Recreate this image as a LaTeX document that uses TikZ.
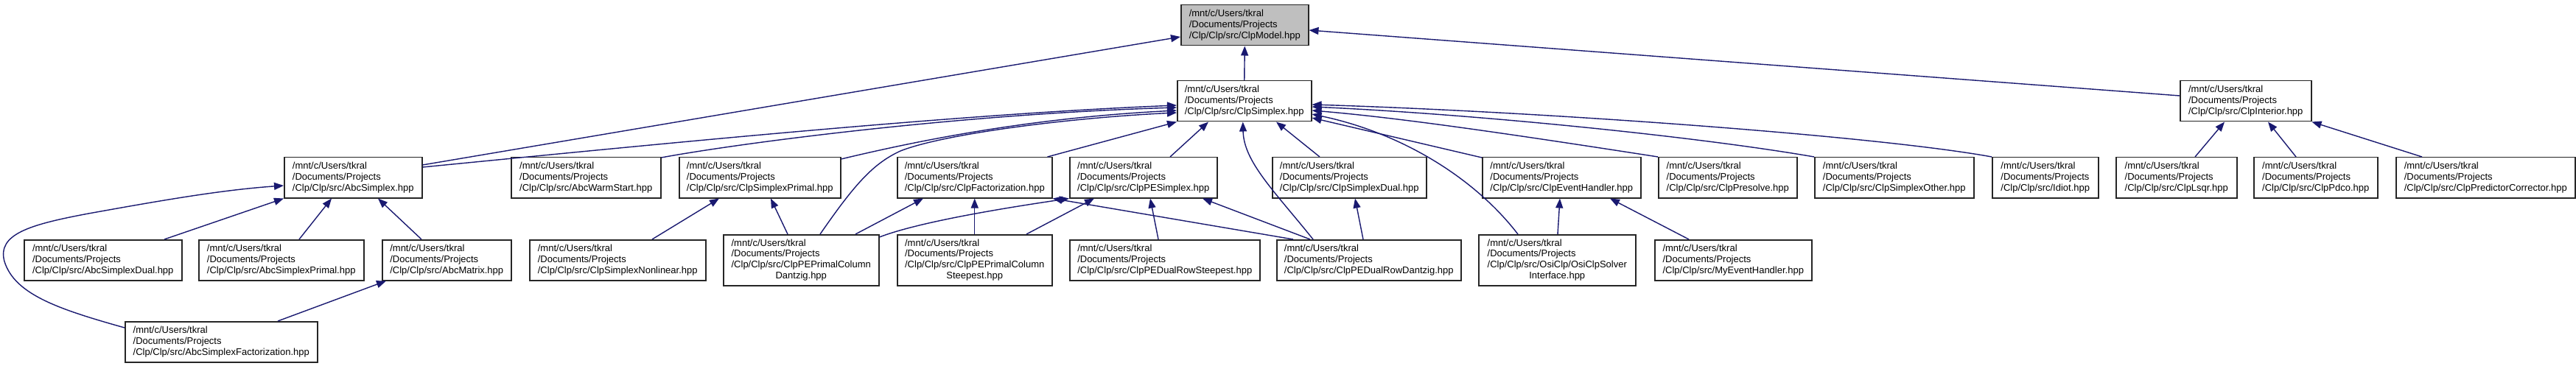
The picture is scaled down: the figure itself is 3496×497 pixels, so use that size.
\documentclass[tikz,border=0pt]{standalone}
\usepackage{fontspec}
\setmainfont{Liberation Sans}
\usetikzlibrary{arrows.meta,calc}
\definecolor{edgeblue}{HTML}{191970}
\definecolor{nodegray}{HTML}{BFBFBF}
\newcommand\flbl[1]{\begin{tabular}{@{}l@{}}#1\end{tabular}}
\newcommand\lastc[1]{\multicolumn{1}{@{}c@{}}{#1}}
\begin{document}
\begin{tikzpicture}[x=1pt,y=-1pt,
 filebox/.style={draw=black!85, line width=1.5pt, fill=white, rectangle, anchor=north west, inner sep=0pt, minimum height=55pt, font=\fontsize{13}{14.8}\selectfont},
 tallbox/.style={filebox, minimum height=69pt},
 dep/.style={draw=edgeblue, line width=1.4pt, -{Triangle[length=13pt,width=10pt]}}]
\fill[white] (0,0) rectangle (3496,497);
\useasboundingbox (0,0) rectangle (3496,497);
% row 0
\node[filebox, fill=nodegray, minimum width=173pt] (model) at (1602,6) {\flbl{/mnt/c/Users/tkral\\/Documents/Projects\\/Clp/Clp/src/ClpModel.hpp}};
% row 1
\node[filebox, minimum width=182pt] (cs) at (1597,109) {\flbl{/mnt/c/Users/tkral\\/Documents/Projects\\/Clp/Clp/src/ClpSimplex.hpp}};
\node[filebox, minimum width=178pt] (ci) at (2958,109) {\flbl{/mnt/c/Users/tkral\\/Documents/Projects\\/Clp/Clp/src/ClpInterior.hpp}};
% row 2
\node[filebox, minimum width=187pt] (as) at (385,213) {\flbl{/mnt/c/Users/tkral\\/Documents/Projects\\/Clp/Clp/src/AbcSimplex.hpp}};
\node[filebox, minimum width=203pt] (aws) at (693,213) {\flbl{/mnt/c/Users/tkral\\/Documents/Projects\\/Clp/Clp/src/AbcWarmStart.hpp}};
\node[filebox, minimum width=219pt] (csp) at (921,213) {\flbl{/mnt/c/Users/tkral\\/Documents/Projects\\/Clp/Clp/src/ClpSimplexPrimal.hpp}};
\node[filebox, minimum width=210pt] (cf) at (1217,213) {\flbl{/mnt/c/Users/tkral\\/Documents/Projects\\/Clp/Clp/src/ClpFactorization.hpp}};
\node[filebox, minimum width=200pt] (cpes) at (1451,213) {\flbl{/mnt/c/Users/tkral\\/Documents/Projects\\/Clp/Clp/src/ClpPESimplex.hpp}};
\node[filebox, minimum width=209pt] (csd) at (1726,213) {\flbl{/mnt/c/Users/tkral\\/Documents/Projects\\/Clp/Clp/src/ClpSimplexDual.hpp}};
\node[filebox, minimum width=215pt] (ceh) at (2011,213) {\flbl{/mnt/c/Users/tkral\\/Documents/Projects\\/Clp/Clp/src/ClpEventHandler.hpp}};
\node[filebox, minimum width=188pt] (cpre) at (2250,213) {\flbl{/mnt/c/Users/tkral\\/Documents/Projects\\/Clp/Clp/src/ClpPresolve.hpp}};
\node[filebox, minimum width=216pt] (cso) at (2462,213) {\flbl{/mnt/c/Users/tkral\\/Documents/Projects\\/Clp/Clp/src/ClpSimplexOther.hpp}};
\node[filebox, minimum width=144pt] (idiot) at (2703,213) {\flbl{/mnt/c/Users/tkral\\/Documents/Projects\\/Clp/Clp/src/Idiot.hpp}};
\node[filebox, minimum width=164pt] (lsqr) at (2871,213) {\flbl{/mnt/c/Users/tkral\\/Documents/Projects\\/Clp/Clp/src/ClpLsqr.hpp}};
\node[filebox, minimum width=168pt] (pdco) at (3058,213) {\flbl{/mnt/c/Users/tkral\\/Documents/Projects\\/Clp/Clp/src/ClpPdco.hpp}};
\node[filebox, minimum width=243pt] (pc) at (3251,213) {\flbl{/mnt/c/Users/tkral\\/Documents/Projects\\/Clp/Clp/src/ClpPredictorCorrector.hpp}};
% row 3
\node[filebox, minimum width=214pt] (asd) at (32,325) {\flbl{/mnt/c/Users/tkral\\/Documents/Projects\\/Clp/Clp/src/AbcSimplexDual.hpp}};
\node[filebox, minimum width=224pt] (asp) at (269,325) {\flbl{/mnt/c/Users/tkral\\/Documents/Projects\\/Clp/Clp/src/AbcSimplexPrimal.hpp}};
\node[filebox, minimum width=175pt] (am) at (518,325) {\flbl{/mnt/c/Users/tkral\\/Documents/Projects\\/Clp/Clp/src/AbcMatrix.hpp}};
\node[filebox, minimum width=239pt] (csn) at (718,325) {\flbl{/mnt/c/Users/tkral\\/Documents/Projects\\/Clp/Clp/src/ClpSimplexNonlinear.hpp}};
\node[tallbox, minimum width=211pt] (pepcd) at (981,318) {\flbl{/mnt/c/Users/tkral\\/Documents/Projects\\/Clp/Clp/src/ClpPEPrimalColumn\\\lastc{Dantzig.hpp}}};
\node[tallbox, minimum width=210pt] (pepcs) at (1217,318) {\flbl{/mnt/c/Users/tkral\\/Documents/Projects\\/Clp/Clp/src/ClpPEPrimalColumn\\\lastc{Steepest.hpp}}};
\node[filebox, minimum width=258pt] (pedrs) at (1451,325) {\flbl{/mnt/c/Users/tkral\\/Documents/Projects\\/Clp/Clp/src/ClpPEDualRowSteepest.hpp}};
\node[filebox, minimum width=250pt] (pedrd) at (1732,325) {\flbl{/mnt/c/Users/tkral\\/Documents/Projects\\/Clp/Clp/src/ClpPEDualRowDantzig.hpp}};
\node[tallbox, minimum width=213pt] (osi) at (2006,318) {\flbl{/mnt/c/Users/tkral\\/Documents/Projects\\/Clp/Clp/src/OsiClp/OsiClpSolver\\\lastc{Interface.hpp}}};
\node[filebox, minimum width=213pt] (myeh) at (2245,325) {\flbl{/mnt/c/Users/tkral\\/Documents/Projects\\/Clp/Clp/src/MyEventHandler.hpp}};
% row 4
\node[filebox, minimum width=261pt] (asf) at (169,436) {\flbl{/mnt/c/Users/tkral\\/Documents/Projects\\/Clp/Clp/src/AbcSimplexFactorization.hpp}};

% edges to ClpModel
\draw[dep] (cs.north) -- (model.south);
\draw[dep] ($(as.north east)+(0,11)$) -- ($(model.north west)+(0,44)$);
\draw[dep] ($(ci.north west)+(0,21)$) -- ($(model.north east)+(0,35)$);
% edges to ClpSimplex (left side)
\draw[dep] ($(as.north east)+(0,14)$) .. controls (900,195) and (1300,155) .. ($(cs.north west)+(0,34)$);
\draw[dep] ($(aws.north east)+(0,1)$) .. controls (1000,195) and (1300,155) .. ($(cs.north west)+(0,37)$);
\draw[dep] ($(csp.north east)+(0,3)$) .. controls (1250,190) and (1400,160) .. ($(cs.north west)+(0,41)$);
\draw[dep] ($(pepcd.north west)+(132,0)$) .. controls (1160,250) and (1185,222) .. (1222,205) .. controls (1280,182) and (1450,160) .. ($(cs.north west)+(0,44)$);
\draw[dep] ($(cf.north east)+(-7,0)$) -- (cs.south west);
% edges to ClpSimplex (bottom)
\draw[dep] ($(cpes.north west)+(137,0)$) -- ($(cs.south west)+(43,0)$);
\draw[dep] ($(csd.north west)+(65,0)$) -- ($(cs.south west)+(135,0)$);
\draw[dep] ($(pedrd.north west)+(50,0)$) .. controls (1730,260) and (1688,220) .. ($(cs.south)+(-2,0)$);
% edges to ClpSimplex (right side)
\draw[dep] ($(ceh.north west)+(0,1)$) -- ($(cs.north east)+(0,51)$);
\draw[dep] ($(osi.north west)+(54,0)$) .. controls (2000,240) and (1900,180) .. ($(cs.north east)+(0,46)$);
\draw[dep] (cpre.north west) .. controls (2050,182) and (1900,160) .. ($(cs.north east)+(0,41)$);
\draw[dep] (cso.north west) .. controls (2300,185) and (2000,155) .. ($(cs.north east)+(0,36)$);
\draw[dep] (idiot.north west) .. controls (2550,185) and (2100,152) .. ($(cs.north east)+(0,33)$);
% row 3 -> row 2
\draw[dep] ($(csn.north west)+(167,0)$) -- ($(csp.south west)+(55,0)$);
\draw[dep] ($(pepcd.north west)+(88,0)$) -- ($(csp.south west)+(125,0)$);
\draw[dep] ($(pepcd.north west)+(180,0)$) -- ($(cf.south west)+(36,0)$);
\draw[dep] ($(pepcd.north east)+(0,4)$) .. controls (1250,300) and (1380,280) .. (cpes.south west);
\draw[dep] (pepcs.north) -- (cf.south);
\draw[dep] ($(pepcs.north west)+(176,0)$) -- ($(cpes.south west)+(34,0)$);
\draw[dep] ($(pedrs.north west)+(121,0)$) -- ($(cpes.south west)+(110,0)$);
\draw[dep] ($(pedrd.north west)+(46,0)$) -- ($(cpes.south west)+(181,0)$);
\draw[dep] ($(pedrd.north west)+(23,0)$) -- (cf.south east);
\draw[dep] ($(pedrd.north west)+(118,0)$) -- ($(csd.south west)+(113,0)$);
\draw[dep] ($(osi.north west)+(108,0)$) -- ($(ceh.south west)+(106,0)$);
\draw[dep] ($(myeh.north west)+(47,0)$) -- ($(ceh.south west)+(174,0)$);
\draw[dep] ($(asd.north west)+(191,0)$) -- (as.south west);
\draw[dep] ($(asp.north west)+(137,0)$) -- ($(as.south west)+(65,0)$);
\draw[dep] ($(am.north west)+(54,0)$) -- ($(as.south west)+(128,0)$);
% row 4
\draw[dep] ($(asf.north west)+(0,9)$) .. controls (80,420) and (20,400) .. (6,355) .. controls (-4,318) and (40,305) .. (120,290) .. controls (220,272) and (300,258) .. ($(as.north west)+(0,39)$);
\draw[dep] ($(asf.north west)+(208,0)$) -- ($(am.south west)+(6,0)$);
% ClpInterior
\draw[dep] ($(lsqr.north west)+(108,0)$) -- ($(ci.south west)+(61,0)$);
\draw[dep] ($(pdco.north west)+(58,0)$) -- ($(ci.south west)+(120,0)$);
\draw[dep] ($(pc.north west)+(36,0)$) -- (ci.south east);
\end{tikzpicture}
\end{document}
